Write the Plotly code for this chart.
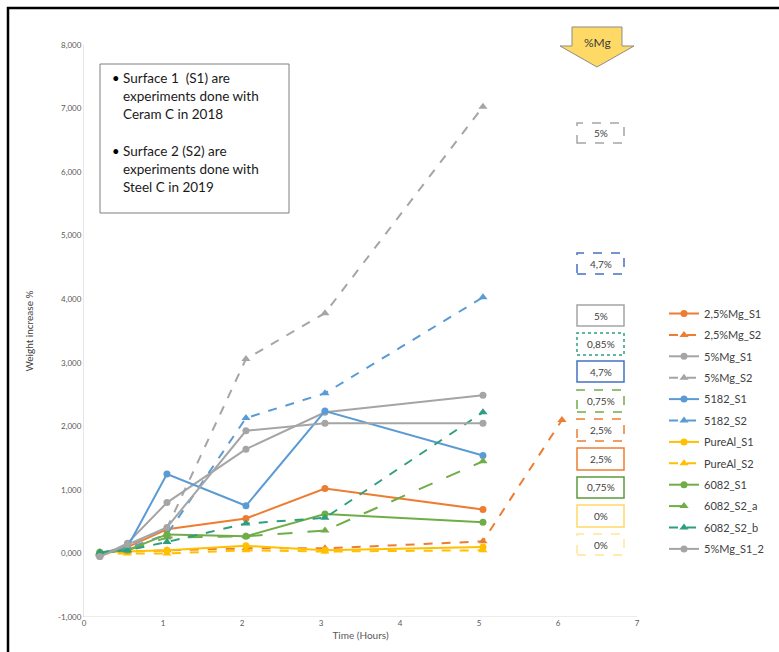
import plotly.graph_objects as go

# ---------------- data ----------------
times = [0.2, 0.55, 1.05, 2.05, 3.05, 5.05]
times_ext = [0.2, 0.55, 1.05, 2.05, 3.05, 5.05, 6.05]

mg25_s1 = [0.00, 0.10, 0.38, 0.55, 1.02, 0.69]
mg25_s2 = [0.00, 0.03, 0.05, 0.08, 0.08, 0.19, 2.10]
mg5_s1 = [-0.05, 0.16, 0.80, 1.64, 2.22, 2.49]
mg5_s2 = [-0.03, 0.12, 0.40, 3.06, 3.78, 7.03]
a5182_s1 = [0.00, 0.10, 1.25, 0.75, 2.24, 1.54]
a5182_s2 = [0.00, 0.08, 0.30, 2.13, 2.52, 4.03]
pureal_s1 = [0.02, 0.03, 0.05, 0.12, 0.05, 0.10]
pureal_s2 = [0.00, 0.00, 0.00, 0.05, 0.03, 0.05]
a6082_s1 = [0.02, 0.05, 0.30, 0.27, 0.62, 0.49]
a6082_s2a = [0.00, 0.05, 0.25, 0.27, 0.36, 1.45]
a6082_s2b = [0.02, 0.05, 0.18, 0.47, 0.56, 2.22]
mg5_s1_2 = [-0.05, 0.14, 0.41, 1.93, 2.05, 2.05]

y_tickvals = [-1, 0, 1, 2, 3, 4, 5, 6, 7, 8]
y_ticktext = ["-1,000", "0,000", "1,000", "2,000", "3,000", "4,000",
              "5,000", "6,000", "7,000", "8,000"]
x_tickvals = [0, 1, 2, 3, 4, 5, 6, 7]

box_labels = ["5%", "4,7%", "5%", "0,85%", "4,7%", "0,75%", "2,5%", "2,5%", "0,75%", "0%", "0%"]

# ---------------- style ----------------
ORANGE = "#ED7D31"
GRAY = "#A5A5A5"
BLUE = "#5B9BD5"
YELLOW = "#FFC000"
GREEN = "#70AD47"
TEAL = "#2E9E80"
FONT = "Lato"

series = [
    ("2,5%Mg_S1", times, mg25_s1, ORANGE, "solid", "circle"),
    ("2,5%Mg_S2", times_ext, mg25_s2, ORANGE, "dash", "triangle-up"),
    ("5%Mg_S1", times, mg5_s1, GRAY, "solid", "circle"),
    ("5%Mg_S2", times, mg5_s2, GRAY, "dash", "triangle-up"),
    ("5182_S1", times, a5182_s1, BLUE, "solid", "circle"),
    ("5182_S2", times, a5182_s2, BLUE, "dash", "triangle-up"),
    ("PureAl_S1", times, pureal_s1, YELLOW, "solid", "circle"),
    ("PureAl_S2", times, pureal_s2, YELLOW, "dash", "triangle-up"),
    ("6082_S1", times, a6082_s1, GREEN, "solid", "circle"),
    ("6082_S2_a", times, a6082_s2a, GREEN, "longdash", "triangle-up"),
    ("6082_S2_b", times, a6082_s2b, TEAL, "dash", "triangle-up"),
    ("5%Mg_S1_2", times, mg5_s1_2, GRAY, "solid", "circle"),
]

W, H = 779, 652
L, R, T, B = 84, 637, 45, 617


def px(x):
    return (x - L) / (R - L)


def py(y):
    return (B - y) / (B - T)


fig = go.Figure()
for i, (name, xs, ys, col, dash, sym) in enumerate(series):
    fig.add_trace(go.Scatter(
        x=xs, y=ys, name=name, mode="lines+markers",
        line=dict(color=col, width=2, dash=dash),
        marker=dict(color=col, size=7 if sym == "circle" else 8, symbol=sym),
        legendgroup="g%d" % i,
    ))

shapes = []
annotations = []

# outer black frame
shapes.append(dict(type="rect", xref="paper", yref="paper",
                   x0=px(8), x1=px(800), y0=py(680), y1=py(8),
                   line=dict(color="black", width=2.5)))

# info text box
shapes.append(dict(type="rect", xref="paper", yref="paper",
                   x0=px(100), x1=px(289), y0=py(213), y1=py(64),
                   line=dict(color="#7F7F7F", width=1), fillcolor="white"))
info_lines = [
    (78, "•", "Surface 1  (S1) are"),
    (96, "", "experiments done with"),
    (114, "", "Ceram C in 2018"),
    (151, "•", "Surface 2 (S2) are"),
    (169, "", "experiments done with"),
    (187, "", "Steel C in 2019"),
]
for yy, bullet, txt in info_lines:
    if bullet:
        annotations.append(dict(xref="paper", yref="paper", x=px(110), y=py(yy),
                                text=bullet, showarrow=False, xanchor="left",
                                yanchor="middle", font=dict(family=FONT, size=13, color="#000000")))
    annotations.append(dict(xref="paper", yref="paper", x=px(121), y=py(yy),
                            text=txt, showarrow=False, xanchor="left", yanchor="middle",
                            font=dict(family=FONT, size=13.5, color="#1A1A1A")))

# %Mg arrow
def P(x, y):
    return "%f,%f" % (px(x), py(y))

arrow_path = ("M " + P(572, 27) + " L " + P(622, 27) + " L " + P(622, 46) + " L " +
              P(634, 46) + " L " + P(597, 67) + " L " + P(560, 46) + " L " +
              P(572, 46) + " Z")
shapes.append(dict(type="path", xref="paper", yref="paper", path=arrow_path,
                   fillcolor="#FFD966", line=dict(color="#8C8C8C", width=1)))
annotations.append(dict(xref="paper", yref="paper", x=px(597), y=py(42), text="%Mg",
                        showarrow=False, xanchor="center", yanchor="middle",
                        font=dict(family=FONT, size=12, color="#3A3A3A")))

# label boxes: (top, bottom, colour, dash)
box_geom = [
    (123, 143, GRAY, "dash"),
    (253, 274, "#4472C4", "dash"),
    (305, 326, GRAY, "solid"),
    (333, 355, TEAL, "dot"),
    (361, 382, "#4472C4", "solid"),
    (390, 412, GREEN, "dash"),
    (419, 441, ORANGE, "dash"),
    (448, 470, ORANGE, "solid"),
    (477, 498, "#5B9A3E", "solid"),
    (505, 527, "#FFD966", "solid"),
    (534, 555, "#FFE699", "dash"),
]
for (t, b, col, dash), lab in zip(box_geom, box_labels):
    shapes.append(dict(type="rect", xref="paper", yref="paper",
                       x0=px(577), x1=px(624), y0=py(b), y1=py(t),
                       line=dict(color=col, width=1.5, dash=dash), fillcolor="white"))
    annotations.append(dict(xref="paper", yref="paper", x=px(600.5), y=py((t + b) / 2),
                            text=lab, showarrow=False, xanchor="center", yanchor="middle",
                            font=dict(family=FONT, size=10, color="#404040")))

fig.update_layout(
    width=W, height=H,
    margin=dict(l=L, r=W - R, t=T, b=H - B, autoexpand=False),
    paper_bgcolor="white", plot_bgcolor="white",
    font=dict(family=FONT, color="#595959"),
    showlegend=True,
    legend=dict(x=px(664), y=py(299), xanchor="left", yanchor="top",
                font=dict(family=FONT, size=11, color="#404040"),
                tracegroupgap=2.4, traceorder="grouped",
                bgcolor="rgba(0,0,0,0)", itemwidth=30),
    xaxis=dict(range=[0, 7], tickvals=x_tickvals, showgrid=False, zeroline=False,
               showline=False, ticks="", tickfont=dict(size=8, color="#595959"),
               automargin=False,
               title=dict(text="Time (Hours)", font=dict(size=10, color="#595959"), standoff=4)),
    yaxis=dict(range=[-1, 8], tickvals=y_tickvals, ticktext=y_ticktext,
               showgrid=False, zeroline=False, showline=True, linecolor="#E6E6E6",
               ticks="", tickfont=dict(size=8, color="#595959"), automargin=False,
               title=dict(text="Weight increase %", font=dict(size=10, color="#404040"), standoff=22)),
    shapes=shapes,
    annotations=annotations,
)
# bottom axis line at y = -1
fig.add_hline(y=-1, line=dict(color="#D9D9D9", width=1))

fig.write_html("out.html", config={"displayModeBar": False},
               post_script="document.body.style.margin='0';document.body.style.padding='0';")
